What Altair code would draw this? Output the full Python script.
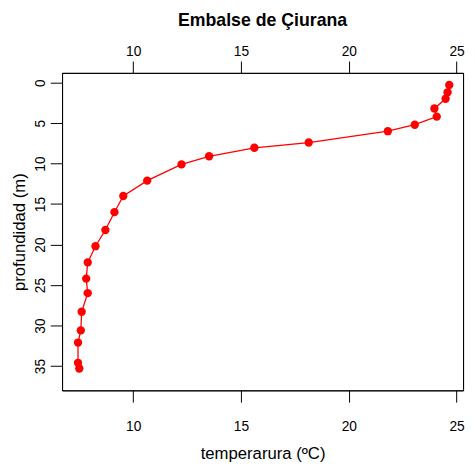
import altair as alt
import pandas as pd

temperature = [24.66, 24.58, 24.49, 23.97, 24.08, 23.06, 21.81, 18.14, 15.62, 13.52, 12.24,
               10.65, 9.54, 9.13, 8.71, 8.25, 7.89, 7.82, 7.89, 7.61, 7.57, 7.44, 7.44, 7.50]
depth = [0.3, 1.2, 2.0, 3.2, 4.2, 5.2, 6.0, 7.4, 8.05, 9.1, 10.1,
         12.1, 14.0, 16.0, 18.2, 20.2, 22.2, 24.2, 26.0, 28.3, 30.6, 32.1, 34.6, 35.3]
x_ticks = [10, 15, 20, 25]
y_ticks = [0, 5, 10, 15, 20, 25, 30, 35]

df = pd.DataFrame({"temp": temperature, "depth": depth, "order": list(range(len(depth)))})

FONT = "Liberation Sans"
RED = "#FF0000"

xscale = alt.Scale(domain=[6.7, 25.3], nice=False, zero=False)
yscale = alt.Scale(domain=[-1.2, 38.0], nice=False, zero=False, reverse=True)

common_axis = dict(grid=False, domain=True, domainColor="black", domainWidth=1,
                   tickColor="black", tickWidth=1, tickSize=12,
                   labelColor="black", labelFont=FONT, labelFontSize=14, titleFont=FONT,
                   titleFontSize=17, titleColor="black", titleFontWeight="normal")

line = alt.Chart(df).mark_line(color=RED, strokeWidth=1.3).encode(
    x=alt.X("temp:Q", scale=xscale,
            axis=alt.Axis(values=x_ticks, title="temperarura (ºC)", orient="bottom",
                          labelPadding=18, titlePadding=12, **common_axis)),
    y=alt.Y("depth:Q", scale=yscale,
            axis=alt.Axis(values=y_ticks, title="profundidad (m)", orient="left",
                          labelAngle=-90, labelAlign="center", labelBaseline="bottom",
                          labelPadding=3, titlePadding=5, **common_axis)),
    order=alt.Order("order:Q"),
)

pts = alt.Chart(df).mark_circle(color=RED, opacity=1, size=72).encode(
    x=alt.X("temp:Q", scale=xscale,
            axis=alt.Axis(values=x_ticks, title=None, orient="top",
                          labelPadding=3, **common_axis)),
    y=alt.Y("depth:Q", scale=yscale,
            axis=alt.Axis(orient="right", title=None, labels=False, ticks=False,
                          grid=False, domain=True, domainColor="black", domainWidth=1)),
)

chart = alt.layer(line, pts).resolve_scale(x="shared", y="shared").resolve_axis(
    x="independent", y="independent"
).properties(
    width=408, height=323,
    background="white",
    title=alt.TitleParams("Embalse de Çiurana", font=FONT, fontSize=18, fontWeight="bold",
                          color="black", offset=15),
    autosize=alt.AutoSizeParams(type="none"),
    padding={"left": 55, "top": 62, "right": 4, "bottom": 75},
).configure_view(stroke="black", strokeWidth=1)

chart.save("out.html", embed_options={"renderer": "svg", "actions": False})
